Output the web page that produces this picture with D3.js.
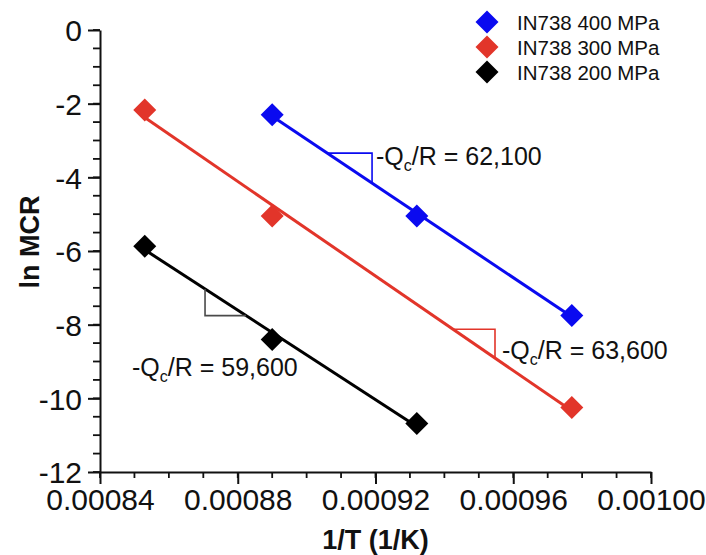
<!DOCTYPE html>
<html>
<head>
<meta charset="utf-8">
<script src="https://cdn.jsdelivr.net/npm/d3@7"></script>
<style>
  body { margin: 0; background: #fff; }
  svg text { font-family: "Liberation Sans", Arial, sans-serif; fill: #111; }
</style>
</head>
<body>
<main></main>
<script>
// values
const seriesNames = ['IN738 400 MPa', 'IN738 300 MPa', 'IN738 200 MPa'];
const seriesColors = ['#0a0af0', '#e2352a', '#000000'];
const triColors = ['#0a0af0', '#e2352a', '#4a4a4a'];
const invT400 = [0.000890, 0.000932, 0.000977];
const lnMcr400 = [-2.30, -5.05, -7.75];
const invT300 = [0.000853, 0.000890, 0.000977];
const lnMcr300 = [-2.17, -5.05, -10.25];
const invT200 = [0.000853, 0.000890, 0.000932];
const lnMcr200 = [-5.87, -8.40, -10.68];
const slopeLabels = ['62,100', '63,600', '59,600'];
// slope triangle extent along each fit line (1/T)
const triFrom = [0.000906, 0.0009425, 0.0008705];
const triTo = [0.000919, 0.0009547, 0.0008824];
const xTicks = [0.00084, 0.00088, 0.00092, 0.00096, 0.00100];
const yTicks = [0, -2, -4, -6, -8, -10, -12];

const width = 706;
const height = 555;
const margin = {left: 100, top: 30, right: 55, bottom: 83};

let svg = d3.select('main')
  .append('svg')
  .attr('width', width)
  .attr('height', height);

const x = d3.scaleLinear()
  .domain([0.00084, 0.00100])
  .range([margin.left, width - margin.right]);
const y = d3.scaleLinear()
  .domain([-12, 0])
  .range([height - margin.bottom, margin.top]);

// minor ticks
const xMinor = d3.range(0.00084, 0.001001, 0.00001);
const yMinor = d3.range(-12, 0.01, 0.5);

let xg = svg.append('g')
  .attr('transform', 'translate(0,' + y(-12) + ')');
xg.selectAll('line.minor')
  .data(xMinor)
  .enter()
  .append('line')
  .attr('x1', d => x(d)).attr('x2', d => x(d))
  .attr('y1', 0).attr('y2', 6)
  .attr('stroke', '#111').attr('stroke-width', 1.8);
xg.call(d3.axisBottom(x)
    .tickValues(xTicks)
    .tickFormat(d3.format('.5f'))
    .tickSize(12)
    .tickPadding(5)
    .tickSizeOuter(0));

let yg = svg.append('g')
  .attr('transform', 'translate(' + x(0.00084) + ',0)');
yg.selectAll('line.minor')
  .data(yMinor)
  .enter()
  .append('line')
  .attr('x1', 0).attr('x2', -7)
  .attr('y1', d => y(d)).attr('y2', d => y(d))
  .attr('stroke', '#111').attr('stroke-width', 1.8);
yg.call(d3.axisLeft(y)
    .tickValues(yTicks)
    .tickFormat(d => d.toString())
    .tickSize(12)
    .tickPadding(6)
    .tickSizeOuter(0));

svg.selectAll('.domain').attr('stroke', '#111').attr('stroke-width', 2);
svg.selectAll('.tick line').attr('stroke', '#111').attr('stroke-width', 2);
svg.selectAll('.tick text')
  .attr('font-size', 30)
  .attr('font-family', '"Liberation Sans", Arial, sans-serif')
  .attr('fill', '#111');
yg.selectAll('.tick text').attr('dy', '0.36em');

// axis titles
svg.append('text')
  .attr('x', (x(0.00084) + x(0.001)) / 2)
  .attr('y', 549)
  .attr('text-anchor', 'middle')
  .attr('font-size', 27)
  .attr('font-weight', 'bold')
  .text('1/T (1/K)');
svg.append('text')
  .attr('transform', 'translate(39,' + 242 + ') rotate(-90)')
  .attr('text-anchor', 'middle')
  .attr('font-size', 27)
  .attr('font-weight', 'bold')
  .text('ln MCR');

const series = [
  {xs: invT400, ys: lnMcr400},
  {xs: invT300, ys: lnMcr300},
  {xs: invT200, ys: lnMcr200}
];

// least squares fit for each series
function fit(xs, ys) {
  const mx = d3.mean(xs), my = d3.mean(ys);
  let sxy = 0, sxx = 0;
  xs.forEach((v, i) => { sxy += (v - mx) * (ys[i] - my); sxx += (v - mx) * (v - mx); });
  const b = sxy / sxx;
  return v => my + b * (v - mx);
}

const diamond = 'M0,-11.5L11.5,0L0,11.5L-11.5,0Z';

series.forEach(function (s, k) {
  const f = fit(s.xs, s.ys);
  const x0 = d3.min(s.xs), x1 = d3.max(s.xs);
  svg.append('line')
    .attr('x1', x(x0)).attr('y1', y(f(x0)))
    .attr('x2', x(x1)).attr('y2', y(f(x1)))
    .attr('stroke', seriesColors[k])
    .attr('stroke-width', 3);

  // slope triangle
  const a = triFrom[k], b = triTo[k];
  let pts;
  if (k < 2) {
    pts = [[x(a), y(f(a))], [x(b), y(f(a))], [x(b), y(f(b))]];
  } else {
    pts = [[x(a), y(f(a))], [x(a), y(f(b))], [x(b), y(f(b))]];
  }
  svg.append('path')
    .attr('d', d3.line()(pts))
    .attr('fill', 'none')
    .attr('stroke', triColors[k])
    .attr('stroke-width', 1.6);
});

series.forEach(function (s, k) {
  svg.selectAll(null)
    .data(s.xs)
    .enter()
    .append('path')
    .attr('d', diamond)
    .attr('transform', (d, i) => 'translate(' + x(d) + ',' + y(s.ys[i]) + ')')
    .attr('fill', seriesColors[k]);
});

// slope annotations
const annoPos = [[376, 165], [502, 359], [132, 376]];
slopeLabels.forEach(function (lab, k) {
  let t = svg.append('text')
    .attr('x', annoPos[k][0])
    .attr('y', annoPos[k][1])
    .attr('font-size', 25);
  t.append('tspan').text('-Q');
  t.append('tspan').attr('font-size', 16).attr('dy', 6).text('c');
  t.append('tspan').attr('dy', -6).text('/R = ' + lab);
});

// legend
let legend = svg.selectAll('g.legend')
  .data(seriesNames)
  .enter()
  .append('g')
  .attr('transform', (d, i) => 'translate(487,' + (22 + i * 25) + ')');
legend.append('path')
  .attr('d', diamond)
  .attr('fill', (d, i) => seriesColors[i]);
legend.append('text')
  .attr('x', 30)
  .attr('y', 7.5)
  .attr('font-size', 20.5)
  .text(d => d);
</script>
</body>
</html>
